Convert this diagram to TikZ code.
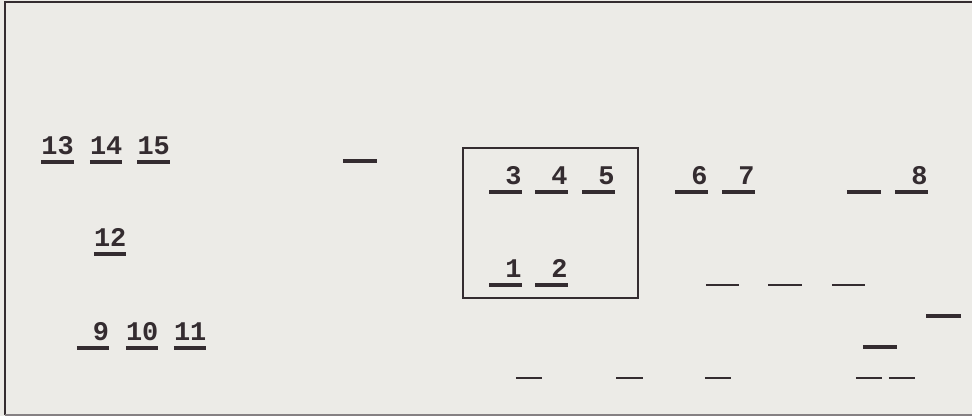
\documentclass[tikz,border=0pt]{standalone}
\usepackage{fontspec}
\newfontfamily\formfont{Liberation Mono}
\usetikzlibrary{positioning}
\definecolor{paper}{RGB}{236,235,231}
\definecolor{ink}{RGB}{52,44,48}
\tikzset{
  field/.style={inner sep=0pt,text width=9.6mm,align=right,text height=5mm,text depth=0pt,
    anchor=south,font=\formfont\bfseries\fontsize{23}{25}\selectfont,text=ink},
  blank/.style={inner sep=0pt,minimum width=#1,minimum height=0pt,anchor=south},
  blank/.default=9.6mm,
  uline/.style={draw=ink,line width=#1},
  uline/.default=2.7pt,
  group/.style={draw=ink,line width=1.5pt,inner sep=0pt,minimum width=52.5mm,minimum height=45mm},
  frame/.style={draw=ink,line width=1.6pt},
}
\begin{document}
\begin{tikzpicture}[x=0.3mm,y=-0.3mm]
  \fill[paper] (0,0) rectangle (972,416);
  \useasboundingbox (0,0) rectangle (972,416);
  % form frame
  \draw[frame] (972,2) -- (5,2) -- (5,415);
  \draw[frame,draw=ink!60] (5,415) -- (972,415);
  % numbered fields
  \foreach \n/\x/\y in {13/57.5/162,14/106/162,15/153.5/162,12/110/254,9/93/348,10/142/348,11/190/348,
    3/505.5/192,4/551.5/192,5/598.5/192,1/505.5/285,2/551.5/285,6/691.5/192,7/738.5/192,8/911.5/192}{
    \node[field] (f\n) at (\x,\y-7) {\n};
    \draw[uline] ([yshift=-2.1mm]f\n.south west) -- ([yshift=-2.1mm]f\n.south east);
  }
  % empty fields
  \foreach \x/\y/\w/\t [count=\i] in {360/161/10.2mm/2.7pt,864/192/10.2mm/2.7pt,943.5/316/10.2mm/2.7pt,880/347/10.2mm/3pt,
    722.5/285/9.9mm/1.5pt,785/285/9.9mm/1.5pt,848.5/285/9.9mm/1.5pt,
    529/378/7.8mm/1.6pt,629.5/378/7.8mm/1.6pt,718/378/7.8mm/1.6pt,869/378/7.8mm/1.6pt,902/378/7.8mm/1.6pt}{
    \node[blank=\w] (b\i) at (\x,\y) {};
    \draw[uline=\t] (b\i.south west) -- (b\i.south east);
  }
  \node[group] (grp) at (550.5,223) {};
\end{tikzpicture}
\end{document}
